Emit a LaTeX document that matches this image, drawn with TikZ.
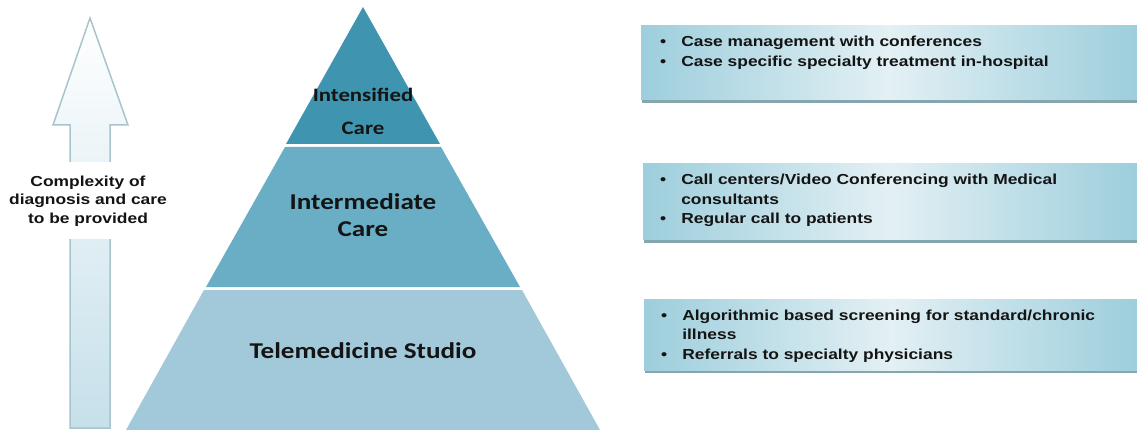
\documentclass[tikz,border=0pt]{standalone}
\usepackage{fontspec}
\usepackage{graphicx}
\setmainfont{Carlito}
\newfontfamily\arialfont{Liberation Sans}
\newcommand\hstretch[1]{\scalebox{1.2}[1]{#1}}
\definecolor{tierA}{HTML}{3F94AF}
\definecolor{tierB}{HTML}{69AEC5}
\definecolor{tierC}{HTML}{A1C9D9}
\definecolor{arrowline}{HTML}{A8C4CD}
\definecolor{shaftfill}{HTML}{C6E0EA}
\definecolor{boxedge}{HTML}{9DCEDC}
\definecolor{boxmid}{HTML}{E3F0F4}
\definecolor{boxshadow}{HTML}{86A6AF}
\definecolor{inktext}{HTML}{141414}
\tikzset{
  tiertext/.style={inner sep=0pt, text=inktext, font=\bfseries},
  bullettext/.style={inner sep=0pt, anchor=base west, text=inktext, font=\arialfont\bfseries\fontsize{14.5}{19.5}\selectfont},
  infobox/.style={left color=boxedge, right color=boxedge, middle color=boxmid},
  boxshade/.style={fill=boxshadow},
}
\begin{document}
\begin{tikzpicture}[x=1pt,y=-1pt]
\useasboundingbox (0,0) rectangle (1137,430);
\fill[white] (0,0) rectangle (1137,430);

% upward arrow
\shade[top color=white, bottom color=shaftfill, draw=arrowline, line width=1.5pt, line join=miter]
  (90,18) -- (128,125) -- (110,125) -- (110,428) -- (70,428) -- (70,125) -- (53,125) -- cycle;
\node[fill=white, inner xsep=6pt, inner ysep=0pt, minimum height=77pt, align=center,
      text=inktext, font=\arialfont\bfseries\fontsize{14.5}{18.5}\selectfont] (axislabel) at (88,201)
  {\hstretch{Complexity of}\\ \hstretch{diagnosis and care}\\ \hstretch{to be provided}};

% pyramid tiers
\fill[tierA] (363,7) -- (440,144) -- (286,144) -- cycle;
\fill[tierB] (285,147) -- (441,147) -- (520,287) -- (206,287) -- cycle;
\fill[tierC] (204,290) -- (522,290) -- (600,430) -- (126,430) -- cycle;

\node[tiertext, anchor=base, font=\bfseries\fontsize{19}{19}\selectfont] (intensified) at (363,102) {\hstretch{Intensified}};
\node[tiertext, anchor=base, font=\bfseries\fontsize{19}{19}\selectfont] (intensifiedcare) at (363,135) {\hstretch{Care}};
\node[tiertext, anchor=base, font=\bfseries\fontsize{22.6}{22.6}\selectfont] (intermediate) at (363,210) {\hstretch{Intermediate}};
\node[tiertext, anchor=base, font=\bfseries\fontsize{22.6}{22.6}\selectfont] (intermediatecare) at (363,237) {\hstretch{Care}};
\node[tiertext, anchor=base, font=\bfseries\fontsize{22.6}{22.6}\selectfont] (studio) at (363,358) {\hstretch{Telemedicine Studio}};

% info boxes
\fill[boxshade] (642,29) rectangle (1137,103);
\shade[infobox] (641,26) rectangle (1137,100);
\fill[boxshade] (644,167) rectangle (1137,243);
\shade[infobox] (643,164) rectangle (1137,240);
\fill[boxshade] (645,302) rectangle (1137,373);
\shade[infobox] (644,299) rectangle (1137,370);

\node[bullettext] (boxone) at (660,47) {\hstretch{\begin{tabular}[t]{@{}l@{\hspace{12.5pt}}l@{}}
\textbullet & Case management with conferences\\
\textbullet & Case specific specialty treatment in-hospital
\end{tabular}}};
\node[bullettext] (boxtwo) at (660,185) {\hstretch{\begin{tabular}[t]{@{}l@{\hspace{12.5pt}}l@{}}
\textbullet & Call centers/Video Conferencing with Medical\\
 & consultants\\
\textbullet & Regular call to patients
\end{tabular}}};
\node[bullettext] (boxthree) at (661,320) {\hstretch{\begin{tabular}[t]{@{}l@{\hspace{12.5pt}}l@{}}
\textbullet & Algorithmic based screening for standard/chronic\\
 & illness\\
\textbullet & Referrals to specialty physicians
\end{tabular}}};
\end{tikzpicture}
\end{document}
